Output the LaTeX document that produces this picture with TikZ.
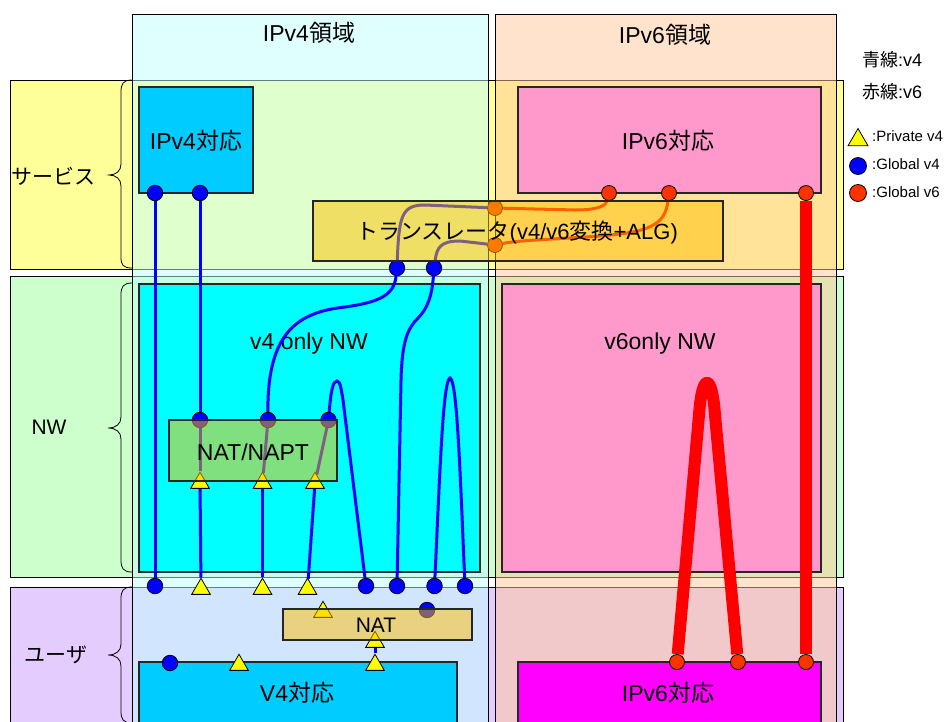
\documentclass[tikz,border=0pt]{standalone}
\usepackage{fontspec}
\setmainfont{Liberation Sans}
\newfontfamily\jpf{Noto Sans CJK JP}
\usetikzlibrary{shapes.geometric,fit}

\pgfdeclarelayer{regions}
\pgfdeclarelayer{panels}
\pgfdeclarelayer{wires}
\pgfdeclarelayer{glass}
\pgfsetlayers{regions,panels,wires,main,glass}

\definecolor{rowsvc}{HTML}{FFFF99}
\definecolor{rownw}{HTML}{CCFFCC}
\definecolor{rowusr}{HTML}{E5CCFF}
\definecolor{colfour}{HTML}{C0FFFF}
\definecolor{colsix}{HTML}{FFC899}
\definecolor{skyblue}{HTML}{00CCFF}
\definecolor{aqua}{HTML}{00FFFF}
\definecolor{pinkbox}{HTML}{FF99CC}
\definecolor{magentabox}{HTML}{FF00FF}
\definecolor{goldglass}{HTML}{FFC000}
\definecolor{vfourblue}{HTML}{0000FF}
\definecolor{vsixred}{HTML}{FF0000}
\definecolor{vsixdot}{HTML}{FF3300}
\definecolor{privyellow}{HTML}{FFFF00}

\begin{document}
\begin{tikzpicture}[
  x=1pt, y=-1pt,
  region/.style={draw=black, line width=0.9pt},
  rowbrace/.style={draw=black, line width=0.8pt},
  panel/.style={draw=black!85, line width=1.2pt, inner sep=0pt},
  glassbox/.style={draw=black!85, line width=1.2pt, inner sep=0pt,
    fill=goldglass, fill opacity=0.5},
  txt/.style={inner sep=0pt},
  big/.style={font=\fontsize{23}{27}\selectfont},
  mid/.style={font=\fontsize{21}{25}\selectfont},
  keyfont/.style={font=\fontsize{18}{20}\selectfont},
  smallkey/.style={font=\fontsize{15}{17}\selectfont},
  gfour/.style={circle, draw=black, line width=0.8pt, fill=vfourblue,
    minimum size=15.5pt, inner sep=0pt},
  gsix/.style={circle, draw=black, line width=0.8pt, fill=vsixdot,
    minimum size=15pt, inner sep=0pt},
  pfour/.style={regular polygon, regular polygon sides=3, draw=black,
    line width=0.8pt, fill=privyellow, minimum size=21.5pt, inner sep=0pt},
  wfour/.style={draw=vfourblue, line width=3pt},
  wsix/.style={draw=vsixred, line width=3pt},
  wsixfat/.style={draw=vsixred, line width=12pt, line join=round},
]
\useasboundingbox (0,0) rectangle (948,721);
\clip (0,0) rectangle (948,721);

% ---------- layer rows and address-family columns ----------
\begin{pgfonlayer}{regions}
  \draw[region, fill=rowsvc] (10,80) rectangle (843,269);
  \draw[region, fill=rownw]  (10,276) rectangle (843,577);
  \draw[region, fill=rowusr] (10,587) rectangle (843,740);
  \draw[region, fill=colfour, fill opacity=0.5] (132,14) rectangle (488,740);
  \draw[region, fill=colsix, fill opacity=0.5] (495,14) rectangle (836,740);

  \draw[rowbrace] (132,80) .. controls (123,80) and (121,84) .. (121,92)
    -- (121,164) .. controls (121,171) and (116,175) .. (109,175)
    .. controls (116,175) and (121,179) .. (121,186)
    -- (121,257) .. controls (121,265) and (123,268) .. (132,268);
  \draw[rowbrace] (132,283) .. controls (123,283) and (121,287) .. (121,295)
    -- (121,417) .. controls (121,424) and (116,428) .. (108,428)
    .. controls (116,428) and (121,432) .. (121,439)
    -- (121,560) .. controls (121,568) and (123,572) .. (132,572);
  \draw[rowbrace] (132,587) .. controls (123,587) and (121,591) .. (121,599)
    -- (121,644) .. controls (121,651) and (116,655) .. (108,655)
    .. controls (116,655) and (121,659) .. (121,666)
    -- (121,711) .. controls (121,719) and (123,723) .. (132,723);
\end{pgfonlayer}

\node[txt, mid] (lblsvc) at (54,176) {\jpf サービス};
\node[txt, mid] (lblnw) at (49,427) {NW};
\node[txt, mid] (lblusr) at (56,655) {\jpf ユーザ};
\node[txt, big] (ttlfour) at (309,33) {IPv4{\jpf 領域}};
\node[txt, big] (ttlsix) at (665,35) {IPv6{\jpf 領域}};

% ---------- opaque panels ----------
\begin{pgfonlayer}{panels}
  \node[panel, fill=skyblue, fit={(139,87) (253,193)}] (svcfour) {};
  \node[panel, fill=pinkbox, fit={(518,87) (821,193)}] (svcsix) {};
  \node[panel, fill=aqua, fit={(139,284) (480,572)}] (nwfour) {};
  \node[panel, fill=pinkbox, fit={(502,284) (821,572)}] (nwsix) {};
  \node[panel, fill=skyblue, fit={(139,662) (457,724)}] (usrfour) {};
  \node[panel, fill=magentabox, fit={(518,662) (821,724)}] (usrsix) {};
  \node[txt, big] (svcfourlbl) at (196,141) {IPv4{\jpf 対応}};
  \node[txt, big] (svcsixlbl) at (668,141) {IPv6{\jpf 対応}};
  \node[txt, big] (nwfourlbl) at (309,344) {v4 only NW};
  \node[txt, big] (nwsixlbl) at (660,344) {v6only NW};
  \node[txt, big] (usrfourlbl) at (297,693) {V4{\jpf 対応}};
  \node[txt, big] (usrsixlbl) at (668,693) {IPv6{\jpf 対応}};
\end{pgfonlayer}

% ---------- address end points ----------
\node[gfour] (svcA) at (155,193) {};
\node[gfour] (svcB) at (200,193) {};
\node[gfour] (trA) at (397,268) {};
\node[gfour] (trB) at (434,268) {};
\node[gfour] (naptA) at (200,420) {};
\node[gfour] (naptB) at (268,420) {};
\node[gfour] (naptC) at (328.5,420) {};
\node[pfour] (privA) at (200,483) {};
\node[pfour] (privB) at (262.5,483) {};
\node[pfour] (privC) at (315,483) {};
\node[gfour] (edgeA) at (155,586) {};
\node[pfour] (edgeB) at (201,589) {};
\node[pfour] (edgeC) at (262.5,589) {};
\node[pfour] (edgeD) at (307.5,589) {};
\node[gfour] (edgeE) at (366,586) {};
\node[gfour] (edgeF) at (397,586) {};
\node[gfour] (edgeG) at (434.5,586) {};
\node[gfour] (edgeH) at (465,586) {};
\node[pfour] (natTri) at (323,612) {};
\node[gfour] (natDot) at (427,610) {};
\node[pfour] (natOut) at (375,642) {};
\node[gfour] (hostA) at (170,663) {};
\node[pfour] (hostB) at (239,665) {};
\node[pfour] (hostC) at (375,665) {};

\node[gsix] (sixA) at (609,193) {};
\node[gsix] (sixB) at (669,193) {};
\node[gsix] (sixC) at (806,193) {};
\node[gsix] (xlatA) at (495,208) {};
\node[gsix] (xlatB) at (495,245) {};
\node[gsix] (hostD) at (677,662) {};
\node[gsix] (hostE) at (738,662) {};
\node[gsix] (hostF) at (806,662) {};

% ---------- connections ----------
\begin{pgfonlayer}{wires}
  \draw[wfour] (svcA) -- (edgeA);
  \draw[wfour] (svcB) -- (naptA);
  \draw[wfour] (naptA) -- (privA);
  \draw[wfour] (privA) -- (edgeB);
  \draw[wfour] (trA) .. controls (394,295) and (380,302) .. (345,307)
    .. controls (300,312) and (267,330) .. (naptB);
  \draw[wfour] (naptB) -- (privB);
  \draw[wfour] (privB) -- (edgeC);
  \draw[wfour] (naptC) -- (privC);
  \draw[wfour] (privC) -- (edgeD);
  \draw[wfour] (naptC) .. controls (331,390) and (333,381) .. (337,381)
    .. controls (340,381) and (341,388) .. (343,400) -- (edgeE);
  \draw[wfour] (trB) .. controls (432,295) and (428,308) .. (418,318)
    .. controls (408,328) and (402,340) .. (401,380) -- (edgeF);
  \draw[wfour] (edgeG) .. controls (440,470) and (443,380) .. (450,378)
    .. controls (457,380) and (460,470) .. (edgeH);
  \draw[wfour] (trA) .. controls (399,215) and (402,205) .. (425,205) -- (xlatA);
  \draw[wfour] (trB) .. controls (437,248) and (440,241) .. (460,241) -- (xlatB);
  \draw[wfour] (natOut) -- (hostC);

  \draw[wsix] (sixA) .. controls (606,205) and (600,210) .. (575,210) -- (xlatA);
  \draw[wsix] (sixB) .. controls (665,225) and (650,232) .. (600,236)
    .. controls (560,239) and (520,240) .. (xlatB);
  \draw[wsixfat] (sixC) -- (hostF);
  \draw[wsixfat] (hostD) -- (699,415) .. controls (702,372) and (712,372) .. (715,415) -- (hostE);
\end{pgfonlayer}

% ---------- translating boxes (translucent) ----------
\begin{pgfonlayer}{glass}
  \node[glassbox, fit={(313,201) (723,261)}] (xlat) {};
  \node[glassbox, fit={(169,420) (337,481)}] (napt) {};
  \node[glassbox, fit={(283,609) (472,640)}] (nat) {};
  \node[txt, font=\fontsize{22}{26}\selectfont] (xlatlbl) at (517,233)
    {{\jpf トランスレータ}(v4/v6{\jpf 変換}+ALG)};
  \node[txt, big] (naptlbl) at (253,452) {NAT/NAPT};
  \node[txt, mid] (natlbl) at (376,625) {NAT};
\end{pgfonlayer}

% ---------- key ----------
\node[txt, keyfont, anchor=west] (keyblue) at (862,60) {{\jpf 青線}:v4};
\node[txt, keyfont, anchor=west] (keyred) at (862,92) {{\jpf 赤線}:v6};
\node[pfour, minimum size=23pt] (keypriv) at (858,140) {};
\node[gfour, minimum size=17pt] (keyglobfour) at (858,166) {};
\node[gsix, minimum size=17pt] (keyglobsix) at (858,193) {};
\node[txt, smallkey, anchor=west] (keyprivtxt) at (872,136) {:Private v4};
\node[txt, smallkey, anchor=west] (keyg4txt) at (872,164) {:Global v4};
\node[txt, smallkey, anchor=west] (keyg6txt) at (872,192) {:Global v6};
\end{tikzpicture}
\end{document}
